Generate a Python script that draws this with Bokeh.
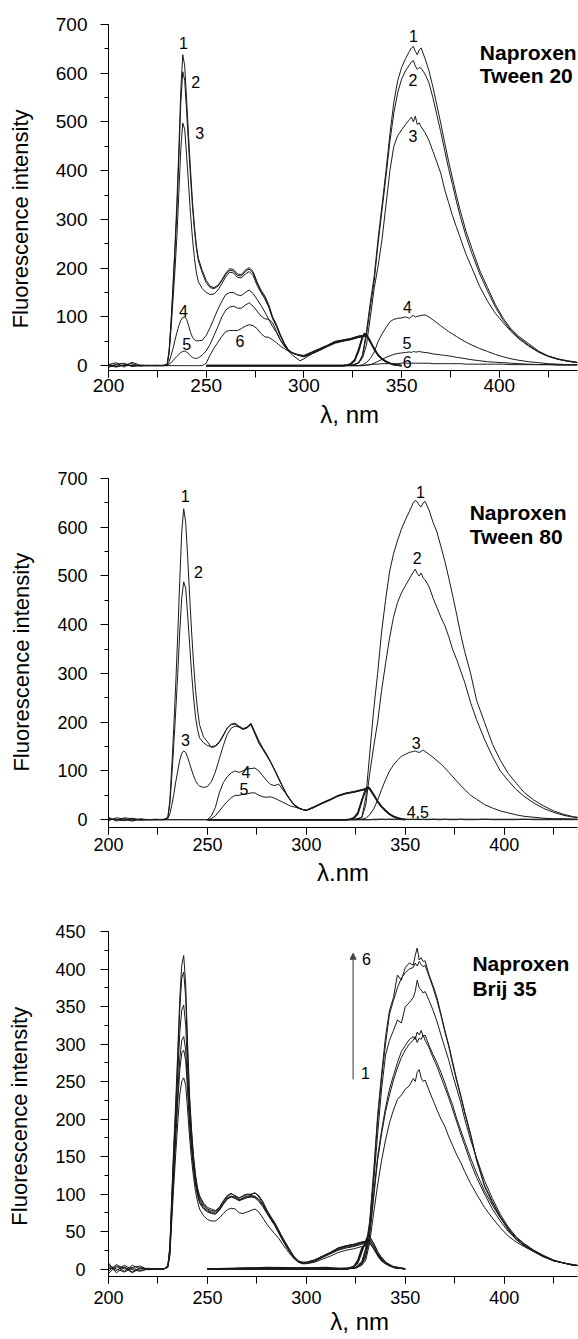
import math
from bokeh.plotting import figure
from bokeh.layouts import column
from bokeh.models import Range1d, SingleIntervalTicker, Label, Arrow, NormalHead
from bokeh.embed import file_html
from bokeh.resources import INLINE

# ---------------- wavelength grids (nm) ----------------
EX_WL = [200, 204, 208, 212, 216, 220, 224, 228,
         230, 231, 232, 233, 234, 235, 236, 237, 238, 239, 240, 241, 242, 243, 244, 245, 246,
         248, 250, 252, 254, 256, 258, 260, 262, 264, 266, 268, 270, 272, 274, 276, 278, 280,
         282, 284, 286, 288, 290, 292, 294, 296, 298, 300,
         304, 308, 312, 316, 320, 324, 328, 332]
EM_WL = [250, 270, 290, 310, 320, 325, 328,
         330, 332, 334, 336, 338, 340, 342, 344, 346, 348, 350, 352, 354,
         355, 356, 357, 358, 359,
         360, 362, 364, 366, 368, 370, 372, 374, 376, 378, 380,
         383, 386, 390, 394, 398, 402, 406, 410, 415, 420, 425, 430, 435, 440]
BD_WL = [250, 280, 310, 320, 322, 324, 326, 328, 330, 331, 332, 334, 336, 338, 340, 342, 344, 346, 348, 350]

# ---------------- Panel 1: Naproxen / Tween 20 ----------------
T20_EX1 = [2, 6, -3, 7, 1, 0, 1, 0,
           3, 30, 90, 165, 245, 335, 445, 565, 638, 615, 545, 470, 400, 335, 285, 245, 220,
           195, 175, 163, 160, 165, 176, 190, 199, 197, 188, 187, 196, 201, 193, 172, 155, 143,
           125, 100, 84, 63, 46, 33, 27, 24, 22, 21,
           28, 35, 42, 50, 53, 56, 61, 63]
T20_EX2 = [-4, 3, 5, -2, 0, 1, 0, 1,
           2, 28, 85, 155, 232, 318, 425, 540, 603, 585, 520, 450, 385, 325, 278, 240, 215,
           190, 170, 160, 158, 163, 174, 187, 196, 194, 185, 184, 193, 198, 190, 170, 153, 140,
           122, 98, 82, 62, 45, 32, 26, 23, 21, 19,
           27, 34, 41, 49, 52, 55, 60, 62]
T20_EX3 = [0, -3, 2, 4, -1, 0, 0, 0,
           2, 25, 75, 135, 195, 265, 355, 445, 498, 485, 430, 370, 310, 260, 220, 190, 172,
           158, 150, 146, 147, 155, 168, 182, 192, 190, 181, 180, 188, 193, 185, 165, 150, 137,
           120, 96, 80, 60, 43, 30, 22, 16, 10, 14,
           24, 32, 40, 48, 51, 54, 59, 62]
T20_EX4 = [3, -2, 1, 0, 1, 0, 0, 0,
           1, 8, 20, 35, 52, 68, 82, 93, 99, 100, 95, 82, 68, 58, 53, 51, 51,
           52, 62, 78, 97, 116, 132, 146, 150, 150, 145, 144, 150, 155, 148, 136, 124, 110,
           95, 80, 68, 52, 40, 31, 26, 23, 21, 19,
           26, 33, 40, 48, 51, 54, 59, 62]
T20_EX5 = [-1, 2, 0, 1, 0, 0, 0, 0,
           0, 3, 6, 10, 15, 19, 23, 27, 29, 30, 28, 24, 20, 17, 15, 15, 16,
           22, 30, 44, 62, 80, 100, 114, 120, 122, 118, 118, 124, 129, 122, 112, 102, 96,
           95, 88, 70, 52, 40, 31, 26, 23, 21, 19,
           25, 32, 40, 47, 51, 54, 58, 61]
T20_EX6 = [1, -1, 0, 0, 0, 0, 0, 0,
           0, 0, 0, 0, 0, 0, 0, 0, 0, 0, 0, 0, 0, 0, 0, 0, 0,
           0, 5, 22, 36, 48, 60, 70, 72, 72, 72, 76, 81, 84, 82, 76, 66, 59,
           58, 53, 47, 40, 35, 30, 26, 23, 20, 18,
           24, 31, 39, 46, 50, 53, 58, 60]

T20_EM1 = [0, 0, 0, 0, 0, 1, 6,
           22, 70, 130, 185, 262, 330, 400, 475, 540, 585, 612, 630, 645,
           652, 655, 645, 638, 648,
           652, 630, 605, 572, 535, 498, 458, 420, 385, 350, 318,
           275, 240, 195, 160, 125, 97, 75, 60, 45, 30, 20, 14, 10, 7]
T20_EM2 = [0, 0, 0, 0, 0, 1, 6,
           20, 62, 120, 175, 252, 320, 388, 460, 518, 560, 588, 605, 617,
           623, 626, 615, 608, 612,
           610, 598, 580, 550, 515, 480, 442, 405, 372, 338, 306,
           265, 230, 188, 153, 120, 93, 72, 57, 42, 28, 19, 13, 9, 6]
T20_EM3 = [0, 0, 0, 0, 0, 1, 5,
           16, 42, 100, 160, 205, 260, 330, 400, 450, 472, 484, 495, 505,
           510, 500, 512, 495, 498,
           490, 478, 462, 440, 418, 395, 362, 335, 308, 285, 262,
           228, 200, 162, 132, 107, 88, 70, 55, 40, 28, 19, 13, 9, 6]
T20_EM4 = [0, 0, 0, 0, 0, 0, 0,
           2, 6, 15, 28, 50, 65, 78, 90, 95, 97, 98, 100, 97,
           101, 103, 100, 101, 102,
           103, 104, 100, 94, 88, 82, 76, 70, 65, 60, 55,
           48, 42, 35, 29, 23, 18, 14, 11, 8, 6, 4, 3, 2, 2]
T20_EM5 = [0, 0, 0, 0, 0, 0, 0,
           0, 1, 2, 5, 9, 13, 17, 20, 23, 25, 26, 27, 28,
           27, 29, 28, 28, 29,
           28, 27, 26, 24, 23, 22, 21, 20, 19, 17, 16,
           14, 12, 10, 8, 7, 6, 5, 4, 3, 2, 2, 1, 1, 1]
T20_EM6 = [0, 0, 0, 0, 0, 0, 0,
           0, 1, 2, 3, 3, 4, 4, 4, 4, 4, 5, 5, 5,
           5, 5, 5, 5, 5,
           5, 5, 5, 4, 4, 4, 4, 4, 4, 4, 4,
           3, 3, 3, 3, 3, 3, 2, 2, 2, 2, 2, 2, 2, 2]
T20_BD1 = [0, 0, 0, 0, 1, 3, 10, 30, 58, 66, 64, 50, 35, 22, 14, 9, 5, 2, 1, 0]
T20_BD2 = [0, 0, 0, 0, 1, 4, 12, 33, 60, 65, 62, 48, 33, 21, 13, 8, 5, 2, 1, 0]

# ---------------- Panel 2: Naproxen / Tween 80 ----------------
T80_EX1 = [5, -3, 4, 2, -1, 0, 1, 0,
           5, 40, 110, 190, 280, 380, 490, 590, 638, 610, 540, 460, 385, 320, 265, 225, 195,
           170, 160, 148, 150, 158, 172, 188, 196, 198, 192, 187, 190, 198, 180, 162, 147, 134,
           118, 102, 85, 68, 52, 40, 30, 24, 21, 20,
           27, 35, 42, 50, 55, 58, 62, 66]
T80_EX2 = [-2, 4, 1, -3, 2, 0, 0, 1,
           4, 32, 90, 155, 225, 300, 385, 455, 488, 475, 420, 360, 300, 250, 210, 185, 168,
           158, 152, 150, 152, 160, 174, 188, 195, 196, 190, 185, 188, 195, 176, 157, 144, 131,
           117, 101, 84, 67, 51, 39, 29, 23, 21, 19,
           26, 34, 41, 49, 54, 57, 61, 65]
T80_EX3 = [2, 0, -2, 3, 0, 0, 0, 0,
           2, 12, 30, 52, 78, 100, 122, 136, 141, 138, 128, 115, 102, 90, 80, 73, 69,
           66, 68, 78, 98, 125, 152, 175, 188, 192, 190, 186, 189, 196, 177, 158, 145, 132,
           118, 102, 85, 68, 52, 40, 30, 24, 21, 19,
           26, 34, 41, 49, 54, 57, 61, 65]
T80_EX4 = [1, 0, 2, -1, 0, 0, 0, 0,
           0, 0, 0, 0, 0, 0, 0, 0, 0, 0, 0, 0, 0, 0, 0, 0, 0,
           0, 0, 8, 25, 55, 76, 88, 96, 100, 97, 100, 104, 105, 106, 100, 90, 80,
           72, 70, 73, 62, 52, 40, 31, 25, 21, 19,
           26, 34, 41, 49, 54, 57, 61, 65]
T80_EX5 = [0, 1, -1, 0, 0, 0, 0, 0,
           0, 0, 0, 0, 0, 0, 0, 0, 0, 0, 0, 0, 0, 0, 0, 0, 0,
           0, 0, 2, 8, 18, 28, 37, 45, 50, 50, 52, 53, 55, 55, 50, 47, 46,
           47, 44, 40, 36, 32, 28, 26, 24, 21, 19,
           25, 33, 40, 48, 53, 56, 60, 64]

T80_EM1 = [0, 0, 0, 0, 0, 1, 5,
           45, 135, 225, 300, 385, 450, 508, 545, 572, 596, 615, 632, 650,
           655, 652, 645, 642, 650,
           653, 635, 610, 590, 560, 530, 495, 458, 420, 380, 345,
           300, 245, 200, 155, 122, 95, 75, 56, 40, 28, 18, 11, 6, 4]
T80_EM2 = [0, 0, 0, 0, 0, 1, 4,
           30, 95, 150, 200, 265, 320, 372, 415, 445, 465, 480, 494, 508,
           514, 505, 500, 506, 496,
           492, 478, 455, 435, 415, 398, 375, 348, 328, 305, 282,
           240, 205, 165, 130, 100, 80, 62, 48, 34, 23, 15, 9, 5, 3]
T80_EM3 = [0, 0, 0, 0, 0, 0, 1,
           3, 10, 22, 40, 62, 82, 100, 112, 122, 130, 134, 138, 140,
           141, 139, 138, 140, 143,
           140, 134, 128, 121, 114, 106, 97, 88, 79, 70, 62,
           50, 42, 31, 24, 18, 14, 10, 7, 5, 3, 2, 2, 1, 1]
T80_EM4 = [0, 0, 0, 0, 0, 0, 0,
           0, 0, 1, 1, 1, 1, 1, 1, 1, 1, 1, 1, 1,
           1, 1, 1, 1, 1,
           1, 1, 1, 1, 1, 1, 1, 1, 1, 1, 1,
           1, 1, 1, 1, 1, 1, 1, 1, 1, 1, 1, 1, 1, 1]
T80_EM5 = [0, 0, 0, 0, 0, 0, 0,
           0, 0, 0, 0, 1, 0, 1, 0, 1, 0, 1, 0, 1,
           0, 1, 0, 0, 1,
           0, 0, 1, 0, 0, 1, 0, 0, 0, 1, 0,
           0, 0, 1, 0, 0, 0, 0, 1, 0, 0, 0, 0, 0, 0]
T80_BD1 = [0, 0, 0, 0, 1, 3, 12, 38, 64, 67, 64, 52, 38, 27, 19, 12, 7, 4, 2, 0]
T80_BD2 = [0, 0, 0, 0, 1, 4, 14, 40, 62, 66, 63, 50, 37, 26, 18, 11, 6, 3, 1, 0]

# ---------------- Panel 3: Naproxen / Brij 35 ----------------
B35_EX6 = [8, -5, 3, -4, 2, 0, 0, 0,
           5, 30, 100, 165, 225, 290, 360, 405, 418, 380, 300, 230, 185, 150, 125, 108, 98,
           88, 82, 80, 78, 82, 90, 97, 100, 98, 95, 97, 99, 100, 101, 98, 90, 79,
           70, 62, 52, 42, 33, 24, 16, 11, 9, 9,
           12, 17, 22, 28, 31, 33, 36, 38]
B35_EX5 = [-6, 4, -3, 5, 0, 1, 0, 0,
           4, 28, 95, 158, 215, 278, 345, 388, 396, 362, 288, 222, 180, 146, 122, 106, 96,
           86, 80, 78, 77, 82, 91, 98, 101, 97, 94, 98, 100, 99, 102, 96, 88, 78,
           69, 61, 51, 41, 32, 23, 15, 10, 9, 9,
           12, 17, 22, 28, 31, 33, 36, 38]
B35_EX4 = [3, -2, 5, -1, -3, 0, 0, 0,
           4, 25, 88, 148, 200, 258, 315, 345, 352, 325, 265, 208, 170, 140, 118, 103, 93,
           84, 79, 76, 76, 80, 88, 95, 97, 96, 92, 95, 97, 98, 97, 93, 86, 77,
           68, 60, 50, 40, 31, 22, 15, 10, 8, 8,
           11, 16, 21, 27, 30, 32, 35, 37]
B35_EX3 = [-3, 6, 0, 2, 4, -1, 0, 0,
           3, 22, 80, 135, 185, 235, 280, 305, 310, 292, 245, 196, 162, 135, 114, 100, 90,
           82, 77, 75, 74, 79, 87, 94, 97, 95, 92, 94, 96, 97, 96, 92, 85, 76,
           67, 59, 49, 39, 30, 22, 14, 10, 8, 8,
           11, 16, 21, 26, 29, 31, 34, 36]
B35_EX2 = [5, 0, -4, 1, -2, 0, 0, 0,
           3, 20, 75, 128, 175, 222, 265, 288, 292, 278, 236, 190, 158, 132, 112, 98, 88,
           80, 76, 74, 73, 78, 86, 93, 96, 94, 91, 93, 95, 96, 95, 90, 83, 74,
           66, 58, 48, 38, 29, 21, 14, 9, 8, 8,
           10, 15, 20, 25, 28, 30, 33, 35]
B35_EX1 = [0, 3, 2, -5, 1, 0, 0, 0,
           2, 18, 65, 112, 155, 195, 232, 250, 255, 245, 212, 175, 145, 122, 103, 90, 80,
           71, 66, 64, 64, 68, 74, 79, 81, 80, 75, 74, 76, 78, 80, 76, 68, 60,
           53, 47, 41, 33, 26, 19, 13, 9, 7, 7,
           9, 13, 17, 22, 25, 27, 30, 32]

B35_EM6 = [0, 1, 0, 0, 0, 2, 10,
           28, 64, 130, 205, 260, 310, 345, 362, 392, 385, 402, 408, 405,
           418, 428, 412, 415, 410,
           411, 392, 378, 362, 340, 318, 298, 275, 252, 232, 210,
           180, 146, 110, 88, 69, 52, 39, 32, 24, 17, 11, 8, 5, 4]
B35_EM5 = [0, 0, 1, 0, 0, 2, 9,
           25, 60, 125, 198, 255, 300, 340, 358, 375, 388, 395, 400, 402,
           408, 404, 410, 406, 403,
           405, 390, 375, 358, 338, 316, 296, 272, 250, 230, 208,
           178, 145, 112, 90, 70, 54, 40, 32, 24, 17, 11, 8, 5, 4]
B35_EM4 = [0, 0, 0, 1, 0, 2, 8,
           22, 55, 115, 180, 240, 285, 305, 318, 332, 328, 350, 355, 362,
           370, 385, 375, 372, 368,
           370, 358, 345, 330, 312, 295, 278, 258, 240, 222, 200,
           172, 148, 118, 94, 73, 56, 43, 34, 25, 18, 12, 8, 6, 4]
B35_EM3 = [0, 0, 0, 0, 1, 2, 7,
           18, 48, 100, 150, 185, 215, 240, 258, 275, 290, 298, 306, 310,
           306, 316, 312, 318, 310,
           312, 298, 286, 275, 262, 248, 232, 218, 200, 185, 170,
           148, 128, 104, 85, 68, 54, 42, 33, 24, 17, 11, 8, 5, 4]
B35_EM2 = [0, 0, 0, 0, 0, 2, 6,
           16, 45, 95, 145, 180, 210, 232, 252, 268, 282, 292, 300, 305,
           310, 302, 308, 306, 312,
           305, 295, 282, 270, 256, 242, 228, 212, 196, 180, 165,
           142, 122, 100, 80, 64, 50, 40, 31, 23, 16, 11, 8, 5, 4]
B35_EM1 = [0, 1, 0, 0, 0, 1, 5,
           12, 35, 75, 112, 145, 172, 195, 212, 226, 232, 240, 244, 254,
           250, 262, 266, 255, 250,
           252, 238, 225, 212, 200, 190, 176, 164, 152, 142, 130,
           114, 100, 82, 68, 55, 44, 36, 30, 23, 16, 11, 8, 5, 4]
B35_BD1 = [0, 2, 1, 0, 1, 2, 10, 25, 36, 40, 39, 30, 20, 13, 8, 5, 3, 2, 1, 0]
B35_BD2 = [0, 1, 0, 1, 1, 3, 8, 22, 38, 44, 43, 34, 23, 15, 9, 6, 3, 2, 1, 0]
B35_BD3 = [0, 0, 2, 0, 2, 4, 12, 28, 33, 36, 35, 27, 18, 11, 7, 4, 2, 1, 1, 0]

Y_LABEL = "Fluorescence intensity"
X_LABELS = ["λ, nm", "λ.nm", "λ, nm"]
TITLES = [("Naproxen", "Tween 20"), ("Naproxen", "Tween 80"), ("Naproxen", "Brij 35")]

FONT = "Liberation Sans"
INK = "#1a1a1a"
NB = "\u00a0"  # non-breaking space, used only to nudge centred axis titles


def text(p, x, y, s, size, bold=False, align="center", color="black"):
    p.add_layout(Label(x=x, y=y, text=s, text_font=FONT, text_font_size=f"{size}px",
                       text_font_style="bold" if bold else "normal", text_align=align,
                       text_baseline="middle", text_color=color))


def panel(height, b_top, b_bottom, x_end, b_right, y_lo, y_hi, y_step, tick_px, x_tick_out,
          x_std, y_std, xlab, xlab_px, xlab_std, ylab):
    p = figure(width=578, height=height, x_range=Range1d(200, x_end), y_range=Range1d(y_lo, y_hi),
               output_backend="svg", toolbar_location=None,
               min_border_left=108, min_border_right=b_right,
               min_border_top=b_top, min_border_bottom=b_bottom)
    p.outline_line_color = None
    p.xgrid.visible = False
    p.ygrid.visible = False
    p.background_fill_color = "white"
    p.border_fill_color = "white"
    p.xaxis.ticker = SingleIntervalTicker(interval=50, num_minor_ticks=2)
    p.yaxis.ticker = SingleIntervalTicker(interval=y_step, num_minor_ticks=2)
    for ax in p.axis:
        ax.axis_line_color = "black"
        ax.axis_line_width = 1
        ax.major_tick_line_color = "black"
        ax.minor_tick_line_color = "black"
        ax.major_tick_in = 0
        ax.minor_tick_in = 0
        ax.major_label_text_font = FONT
        ax.major_label_text_font_size = f"{tick_px}px"
        ax.major_label_text_color = "black"
        ax.axis_label_text_font = FONT
        ax.axis_label_text_font_style = "normal"
        ax.axis_label_text_color = "black"
    p.xaxis.major_tick_out = x_tick_out
    p.xaxis.minor_tick_out = x_tick_out
    p.xaxis.major_label_standoff = x_std
    p.xaxis.axis_label = xlab
    p.xaxis.axis_label_text_font_size = f"{xlab_px}px"
    p.xaxis.axis_label_standoff = xlab_std
    p.yaxis.major_tick_out = 8
    p.yaxis.minor_tick_out = 4
    p.yaxis.major_label_standoff = y_std
    p.yaxis.axis_label = ylab
    p.yaxis.axis_label_text_font_size = "22px"
    p.yaxis.axis_label_standoff = 20
    return p


def draw(p, xs, series, width=1.0):
    for ys in series:
        assert len(ys) == len(xs), (len(ys), len(xs))
        p.line(xs, ys, line_color=INK, line_width=width)


# ---------- panel 1 (page y 0..440, frame 24..370) ----------
p1 = panel(440, 24, 70, 440, 1, -10, 700, 100, 19, 7, 1, 13,
           NB * 2 + X_LABELS[0], 24, 6, Y_LABEL + NB * 7)
draw(p1, EX_WL, [T20_EX1, T20_EX2, T20_EX3, T20_EX4, T20_EX5, T20_EX6])
draw(p1, EM_WL, [T20_EM1, T20_EM2, T20_EM3, T20_EM4, T20_EM5, T20_EM6])
draw(p1, BD_WL, [T20_BD1, T20_BD2], width=1.6)
for s, x, y in [("1", 238.3, 662), ("2", 244.6, 582), ("3", 246.7, 478), ("4", 238.3, 113),
                ("5", 240.0, 45), ("6", 267.3, 51),
                ("1", 356.1, 676), ("2", 355.8, 587), ("3", 355.8, 471), ("4", 353.0, 121),
                ("5", 352.7, 47), ("6", 352.9, 7)]:
    text(p1, x, y, s, 16)
text(p1, 390, 642, TITLES[0][0], 21, bold=True, align="left")
text(p1, 390, 595, TITLES[0][1], 21, bold=True, align="left")

# ---------- panel 2 (page y 440..892, frame 478..827) ----------
p2 = panel(452, 38, 65, 437, 0, -16, 700, 100, 18, 7, 3, 13,
           X_LABELS[1], 24, 5, Y_LABEL + NB * 3)
draw(p2, EX_WL, [T80_EX1, T80_EX2, T80_EX3, T80_EX4, T80_EX5])
draw(p2, EM_WL, [T80_EM1, T80_EM2, T80_EM3, T80_EM4, T80_EM5])
draw(p2, BD_WL, [T80_BD1, T80_BD2], width=1.6)
for s, x, y in [("1", 238.8, 664), ("2", 245.5, 509), ("3", 238.9, 164), ("4", 269.4, 98),
                ("5", 268.5, 63),
                ("1", 357.7, 673), ("2", 356.0, 536), ("3", 355.5, 158), ("4,5", 356.3, 16)]:
    text(p2, x, y, s, 16)
text(p2, 382.5, 631, TITLES[1][0], 21, bold=True, align="left")
text(p2, 382.5, 580, TITLES[1][1], 21, bold=True, align="left")

# ---------- panel 3 (page y 892..1339, frame 931..1276) ----------
p3 = panel(447, 39, 63, 437, 0, -10, 450, 50, 18, 7, 7, 15,
           NB * 5 + X_LABELS[2], 24, 1, Y_LABEL + NB * 4)
draw(p3, EX_WL, [B35_EX1, B35_EX2, B35_EX3, B35_EX4, B35_EX5, B35_EX6])
draw(p3, EM_WL, [B35_EM1, B35_EM2, B35_EM3, B35_EM4, B35_EM5, B35_EM6])
draw(p3, BD_WL, [B35_BD1, B35_BD2, B35_BD3], width=1.3)
p3.add_layout(Arrow(end=NormalHead(size=6, fill_color="#444444", line_color="#444444"),
                    x_start=323.6, y_start=253, x_end=323.6, y_end=421,
                    line_color="#555555", line_width=1.2))
text(p3, 330.3, 413, "6", 16)
text(p3, 329.8, 262, "1", 16)
text(p3, 383.9, 407, TITLES[2][0], 21, bold=True, align="left")
text(p3, 383.9, 374, TITLES[2][1], 21, bold=True, align="left")

layout = column(p1, p2, p3, spacing=0)
open("out.html", "w").write(file_html(layout, INLINE))
